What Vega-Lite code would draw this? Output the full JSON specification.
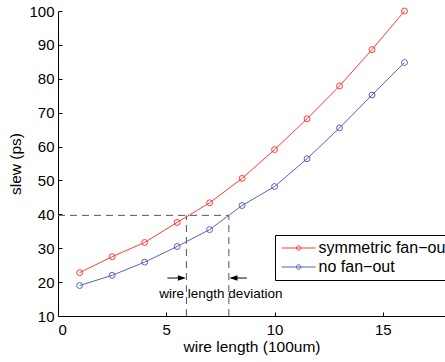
{
  "$schema": "https://vega.github.io/schema/vega-lite/v6.json",
  "autosize": {"type": "none"},
  "padding": {"left": 58, "top": 11, "right": 0, "bottom": 46},
  "width": 387,
  "height": 305,
  "background": "white",
  "config": {
    "view": {"stroke": null},
    "font": "Liberation Sans",
    "axis": {
      "grid": false,
      "domainColor": "black",
      "tickColor": "black",
      "tickSize": -4,
      "labelColor": "black",
      "titleColor": "black",
      "labelFont": "Liberation Sans",
      "titleFont": "Liberation Sans",
      "labelFontSize": 15,
      "titleFontSize": 15.5,
      "titleFontWeight": "normal"
    },
    "legend": {
      "orient": "none",
      "legendX": 217,
      "legendY": 224,
      "title": null,
      "strokeColor": "black",
      "fillColor": "white",
      "padding": 5,
      "symbolType": "M-2.27,0L2.27,0M0.3,0A0.3,0.3,0,1,1,-0.3,0A0.3,0.3,0,1,1,0.3,0",
      "symbolSize": 225,
      "symbolStrokeWidth": 1,
      "symbolFillColor": "transparent",
      "symbolOffset": 10.6,
      "labelOffset": 12,
      "labelFontSize": 16,
      "labelFont": "Liberation Sans",
      "labelColor": "black",
      "rowPadding": 3,
      "labelLimit": 0
    }
  },
  "encoding": {
    "x": {
      "field": "length",
      "type": "quantitative",
      "scale": {"domain": [0, 17.87], "nice": false},
      "axis": {"values": [0, 5, 10, 15], "title": "wire length (100um)", "labelPadding": 10, "titlePadding": 2}
    },
    "y": {
      "field": "slew",
      "type": "quantitative",
      "scale": {"domain": [10, 100], "nice": false},
      "axis": {"values": [10, 20, 30, 40, 50, 60, 70, 80, 90, 100], "title": "slew (ps)", "labelPadding": 8, "titlePadding": 5}
    }
  },
  "layer": [
    {
      "data": {"values": [
        {"length": 0, "length2": 7.89, "slew": 39.7, "slew2": 39.7},
        {"length": 5.93, "length2": 5.93, "slew": 10, "slew2": 39.7},
        {"length": 7.89, "length2": 7.89, "slew": 10, "slew2": 39.7}
      ]},
      "mark": {"type": "rule", "strokeDash": [7, 5], "color": "#555555", "strokeWidth": 1},
      "encoding": {"x2": {"field": "length2"}, "y2": {"field": "slew2"}}
    },
    {
      "data": {"values": [
        {"length": 5.05, "length2": 5.8, "slew": 21.2},
        {"length": 8.0, "length2": 8.72, "slew": 21.2}
      ]},
      "mark": {"type": "rule", "color": "black", "strokeWidth": 1},
      "encoding": {"x2": {"field": "length2"}}
    },
    {
      "data": {"values": [{"length": 5.72, "slew": 21.2}]},
      "mark": {"type": "point", "shape": "M-1,-0.7L1,0L-1,0.7Z", "filled": true, "color": "black", "size": 64, "opacity": 1},
      "encoding": {}
    },
    {
      "data": {"values": [{"length": 8.1, "slew": 21.2}]},
      "mark": {"type": "point", "shape": "M1,-0.7L-1,0L1,0.7Z", "filled": true, "color": "black", "size": 64, "opacity": 1},
      "encoding": {}
    },
    {
      "data": {"values": [{"length": 7.52, "slew": 16.6, "label": "wire length deviation"}]},
      "mark": {"type": "text", "fontSize": 13.5, "font": "Liberation Sans", "align": "center", "baseline": "middle", "color": "black"},
      "encoding": {"text": {"field": "label"}}
    },
    {
      "data": {"name": "series", "values": [
        {"series": "symmetric fan−out", "length": 1, "slew": 22.8},
        {"series": "symmetric fan−out", "length": 2.5, "slew": 27.5},
        {"series": "symmetric fan−out", "length": 4, "slew": 31.7},
        {"series": "symmetric fan−out", "length": 5.5, "slew": 37.6},
        {"series": "symmetric fan−out", "length": 7, "slew": 43.4},
        {"series": "symmetric fan−out", "length": 8.5, "slew": 50.6},
        {"series": "symmetric fan−out", "length": 10, "slew": 59.1},
        {"series": "symmetric fan−out", "length": 11.5, "slew": 68.2},
        {"series": "symmetric fan−out", "length": 13, "slew": 77.9},
        {"series": "symmetric fan−out", "length": 14.5, "slew": 88.6},
        {"series": "symmetric fan−out", "length": 16, "slew": 100},
        {"series": "no fan−out", "length": 1, "slew": 19.0},
        {"series": "no fan−out", "length": 2.5, "slew": 22.0},
        {"series": "no fan−out", "length": 4, "slew": 25.9},
        {"series": "no fan−out", "length": 5.5, "slew": 30.5},
        {"series": "no fan−out", "length": 7, "slew": 35.5},
        {"series": "no fan−out", "length": 8.5, "slew": 42.6},
        {"series": "no fan−out", "length": 10, "slew": 48.2},
        {"series": "no fan−out", "length": 11.5, "slew": 56.4},
        {"series": "no fan−out", "length": 13, "slew": 65.5},
        {"series": "no fan−out", "length": 14.5, "slew": 75.2},
        {"series": "no fan−out", "length": 16, "slew": 84.8}
      ]},
      "layer": [
        {
          "mark": {"type": "line", "strokeWidth": 1},
          "encoding": {
            "color": {"field": "series", "type": "nominal", "sort": ["symmetric fan−out", "no fan−out"],
              "scale": {"domain": ["symmetric fan−out", "no fan−out"], "range": ["#ff3a3a", "#5462c0"]}}
          }
        },
        {
          "mark": {"type": "point", "shape": "circle", "filled": false, "size": 35, "strokeWidth": 1, "opacity": 1},
          "encoding": {
            "color": {"field": "series", "type": "nominal",
              "scale": {"domain": ["symmetric fan−out", "no fan−out"], "range": ["#ff3a3a", "#5462c0"]}}
          }
        }
      ]
    }
  ]
}
